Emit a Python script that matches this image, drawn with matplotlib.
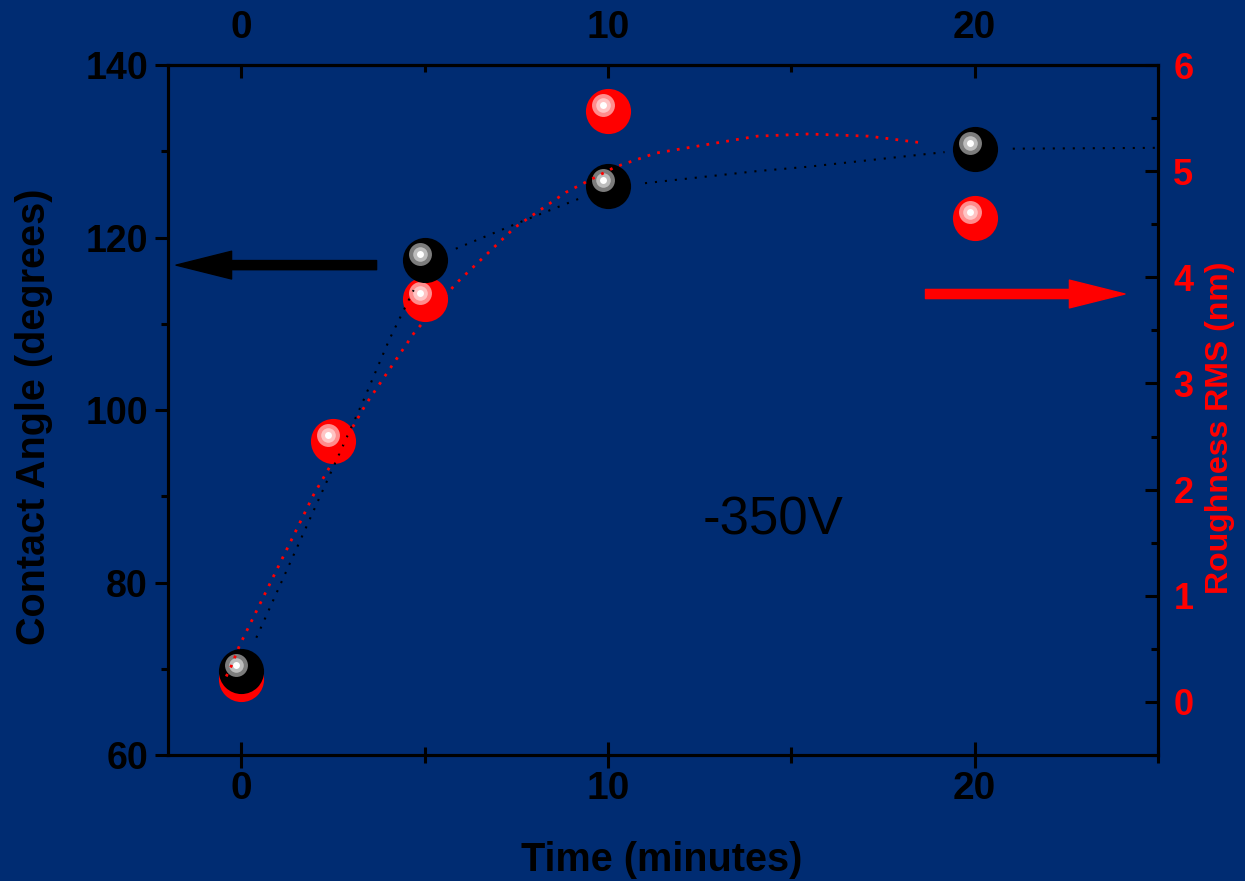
import numpy as np
import matplotlib.pyplot as plt
from matplotlib.transforms import offset_copy

plt.rcParams['font.family'] = ['Liberation Sans', 'DejaVu Sans']
plt.rcParams['font.weight'] = 'bold'
plt.rcParams['axes.labelweight'] = 'bold'

bg = '#002c72'

# measured points
time_ca = [0, 5, 10, 20]
contact_angle = [69.7, 117.4, 126.0, 130.3]
time_rms = [0, 2.5, 5, 10, 20]
roughness = [0.22, 2.46, 3.80, 5.57, 4.56]

# dotted guide curves (nan = gap around a marker)
ca_curve_x = [0.41, 0.57, 2.16, 3.31, 4.04, 4.70, np.nan,
              5.85, 7.73, 9.21, np.nan,
              11.01, 14.07, 15.44, 19.18, np.nan,
              21.04, 25.08]
ca_curve_y = [73.6, 75.1, 90.1, 100.9, 108.2, 113.9, np.nan,
              118.7, 122.0, 124.5, np.nan,
              126.3, 127.7, 128.2, 129.9, np.nan,
              130.3, 130.4]
rms_curve_x = [-0.41, -0.27, -0.05, 0.22, 1.97, 3.39, 4.70, 5.85, 7.46,
               8.85, 10.2, 11.3, 14.07, 15.46, 17.1, 18.5]
rms_curve_y = [0.24, 0.34, 0.53, 0.72, 1.95, 2.80, 3.47, 3.94, 4.47,
               4.80, 5.04, 5.17, 5.33, 5.35, 5.33, 5.27]

fig = plt.figure(figsize=(12.45, 8.81), dpi=100, facecolor=bg)
ax = fig.add_axes([0.1349, 0.1430, 0.7952, 0.7832])
ax_rm = ax.twinx()   # roughness markers (bottom layer)
ax_rl = ax.twinx()   # roughness curve (top layer)
ax_rm.set_zorder(1)
ax.set_zorder(2)
ax_rl.set_zorder(3)
for a in (ax, ax_rm, ax_rl):
    a.patch.set_visible(False)
    for s in a.spines.values():
        s.set_color('black')
        s.set_linewidth(2.2)


def balls(a, x, y, base, ring, mid):
    hl = offset_copy(a.transData, fig=fig, x=-5, y=6, units='dots')
    a.plot(x, y, 'o', ms=32.5, color=base, mec='none', zorder=3)
    a.plot(x, y, 'o', ms=16.5, color=ring, mec='none', zorder=4, transform=hl)
    a.plot(x, y, 'o', ms=10.5, color=mid, mec='none', zorder=5, transform=hl)
    a.plot(x, y, 'o', ms=5, color='white', mec='none', zorder=6, transform=hl)


# contact angle
ax.plot(ca_curve_x, ca_curve_y, color='black', lw=1.5, ls=(0, (1, 3.8)), zorder=2)
balls(ax, time_ca, contact_angle, 'black', '#7c7c7c', '#bcbcbc')

# roughness
balls(ax_rm, time_rms, roughness, 'red', '#ff8c8c', '#ffc4c4')
ax_rl.plot(rms_curve_x, rms_curve_y, color='red', lw=2, ls=(0, (1, 2.6)))

ax.set_xlim(-2, 25)
ax.set_ylim(60, 140)
ax_rm.set_ylim(-0.5, 6)
ax_rl.set_ylim(-0.5, 6)
ax_rl.axis('off')

ax.set_xticks([0, 10, 20])
ax.set_xticks([5, 15, 25], minor=True)
ax.set_yticks([60, 80, 100, 120, 140])
ax.set_yticks([70, 90, 110, 130], minor=True)
ax.tick_params(axis='x', which='major', direction='inout', length=18.7, width=2.2,
               labelsize=28, pad=2, colors='black')
ax.tick_params(axis='x', which='minor', direction='inout', length=11, width=2.2)
ax.tick_params(axis='y', which='major', direction='out', length=9.4, width=2.2,
               labelsize=27, pad=5, colors='black')
ax.tick_params(axis='y', which='minor', direction='out', length=5, width=2.2)

top = ax.secondary_xaxis('top')
top.set_xticks([0, 10, 20])
top.set_xticks([5, 15, 25], minor=True)
top.tick_params(which='major', direction='in', length=9.4, width=2.2, labelsize=28, pad=14)
top.tick_params(which='minor', direction='in', length=5, width=2.2)
top.spines['top'].set_linewidth(2.2)

ax_rm.set_yticks([0, 1, 2, 3, 4, 5, 6])
ax_rm.set_yticks(np.arange(-0.5, 6.0, 1.0), minor=True)
ax_rm.tick_params(axis='y', which='major', direction='in', length=9.4, width=2.2,
                  labelsize=26, pad=11, color='black', labelcolor='red')
ax_rm.tick_params(axis='y', which='minor', direction='in', length=5, width=2.2, color='black')

ax.set_xlabel('Time (minutes)', fontsize=28.5, fontweight='bold')
ax.set_ylabel('Contact Angle (degrees)', fontsize=28.5, fontweight='bold')
ax_rm.set_ylabel('Roughness RMS (nm)', fontsize=23, color='red', fontweight='bold')
ax.xaxis.set_label_coords(0.499, -0.125)
ax.yaxis.set_label_coords(-0.116, 0.49)
ax_rm.yaxis.set_label_coords(1.0475, 0.474)

ax.text(14.5, 87.2, '-350V', fontsize=38, fontweight='normal', ha='center', va='center',
        color='black')

# arrows pointing at each axis
ax.annotate('', xy=(-1.78, 116.8), xytext=(3.69, 116.8),
            arrowprops=dict(arrowstyle='simple,head_length=2.0,head_width=1.0,tail_width=0.33',
                            mutation_scale=20, color='black', shrinkA=0, shrinkB=0))
ax.annotate('', xy=(24.1, 113.45), xytext=(18.66, 113.45),
            arrowprops=dict(arrowstyle='simple,head_length=2.0,head_width=1.0,tail_width=0.33',
                            mutation_scale=20, color='red', shrinkA=0, shrinkB=0))

fig.savefig('out.png', dpi=100, facecolor=bg)
